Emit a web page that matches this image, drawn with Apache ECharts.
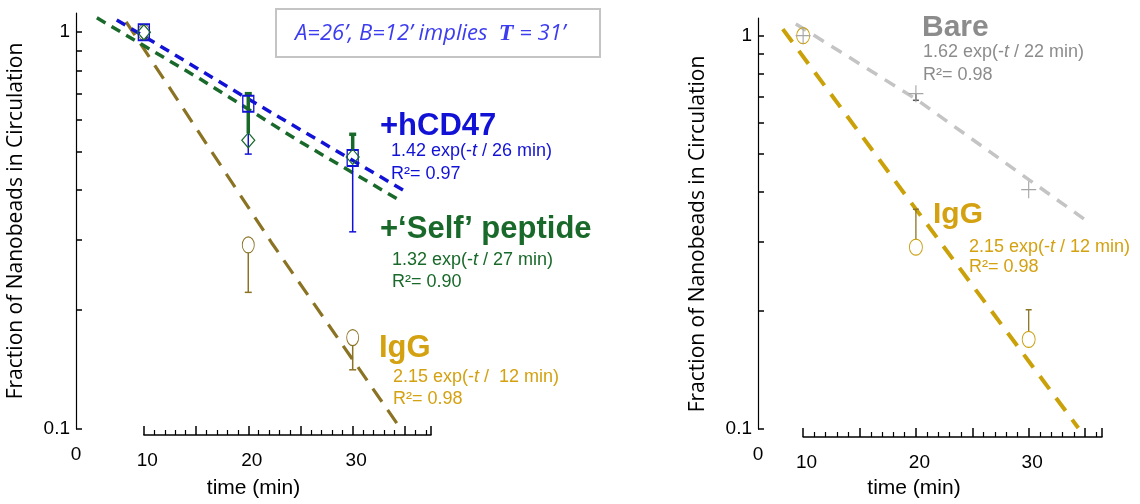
<!DOCTYPE html>
<html>
<head>
<meta charset="utf-8">
<title>Nanobeads in circulation</title>
<script src="https://cdn.jsdelivr.net/npm/echarts@6.0.0/dist/echarts.min.js"></script>
<style>
  html, body { margin: 0; padding: 0; background: #fff; }
  #chart { width: 1140px; height: 504px; }
</style>
</head>
<body>
<div id="chart"></div>
<script>
// values: [time (min), fraction in circulation]
const hcd47Points = [[10, 1.0], [20, 0.66], [30, 0.482]];
const hcd47Err = [[20, 0.66, 0.493], [30, 0.482, 0.314]]; // [t, mean, end of bar]
const hcd47Fit = [[7.4, 1.074], [19.5, 0.691], [34.9, 0.399]];

const selfPoints = [[10, 1.0], [20, 0.534], [30, 0.485]];
const selfErr = [[20, 0.534, 0.70], [30, 0.485, 0.553]];
const selfFit = [[5.5, 1.087], [15.4, 0.762], [24.9, 0.531], [34.5, 0.377]];

const iggLeftPoints = [[10, 1.0], [20, 0.291], [30, 0.170]];
const iggLeftErr = [[20, 0.291, 0.221], [30, 0.170, 0.141]];
const iggLeftFit = [[8.3, 1.062], [22.3, 0.293], [34.5, 0.101]];

const barePoints = [[10, 1.0], [20, 0.712], [30, 0.406]];
const bareErr = [[20, 0.712, 0.685]];
const bareFit = [[9.35, 1.071], [20, 0.69], [34.9, 0.342]];

const iggRightPoints = [[10, 1.0], [20, 0.290], [30, 0.169]];
const iggRightErr = [[20, 0.290, 0.362], [30, 0.169, 0.201]];
const iggRightFit = [[8.2, 1.039], [22.3, 0.295], [34.4, 0.1006]];

const yTickValues = [0.1, 0.2, 0.3, 0.4, 0.5, 0.6, 0.7, 0.8, 0.9, 1];
const yLabelValues = [0.1, 1];
const xLabelValues = [10, 20, 30];

const SANS = 'Liberation Sans';
const BLUE = '#1212d6';
const GREEN = '#19692a';
const GOLD = '#d4a111';
const OLIVE = '#8b7324';
const GRAY = '#8c8c8c';

const chart = echarts.init(document.getElementById('chart'));

// two panels, each: main grid + a thin strip grid that carries the x axis from t=10
const panels = [
  { axisX: 76, top: 13, height: 422, width: 355, xMin: 3.5, xMax: 37.5, yMax: 1.118, namePad: [0, 0, 0, 0], yNamePad: [0, 0, 0, 0] },
  { axisX: 758, top: 18, height: 419, width: 344, xMin: 6, xMax: 36.5, yMax: 1.109, namePad: [0, 32, 0, 0], yNamePad: [0, 21, 0, 0] }
];

const grid = [];
const xAxis = [];
const yAxis = [];
const tickFont = { fontFamily: SANS, fontSize: 19, color: '#000' };

panels.forEach(function (p) {
  const stripLeft = p.axisX + (10 - p.xMin) / (p.xMax - p.xMin) * p.width;
  const gi = grid.length;
  grid.push({ left: p.axisX, top: p.top, width: p.width, height: p.height });
  grid.push({ left: stripLeft, top: p.top + p.height - 10, width: p.axisX + p.width - stripLeft, height: 10 });

  xAxis.push({
    gridIndex: gi, type: 'value', min: p.xMin, max: p.xMax,
    axisLine: { show: false }, axisTick: { show: false }, splitLine: { show: false },
    axisLabel: Object.assign({ customValues: [p.xMin], formatter: function () { return '0'; }, margin: 16 }, tickFont),
    name: 'time (min)', nameLocation: 'middle', nameGap: 49,
    nameTextStyle: { fontFamily: SANS, fontSize: 21, color: '#000', padding: p.namePad }
  });
  xAxis.push({
    gridIndex: gi + 1, type: 'value', min: 10, max: p.xMax, interval: 5,
    axisLine: { onZero: false, lineStyle: { color: '#000', width: 1.5 } },
    axisTick: { inside: true, length: 9, lineStyle: { color: '#000', width: 1.5 } },
    minorTick: { show: true, splitNumber: 5, length: 5, lineStyle: { color: '#000', width: 1.2 } },
    splitLine: { show: false },
    axisLabel: Object.assign({ customValues: xLabelValues, margin: 16, padding: [0, 0, 0, 7] }, tickFont)
  });
  yAxis.push({
    gridIndex: gi, type: 'log', logBase: 10, min: 0.1, max: p.yMax,
    axisLine: { show: true, onZero: false, lineStyle: { color: '#000', width: 1.2 } },
    axisTick: { show: true, inside: true, length: 6, customValues: yTickValues, lineStyle: { color: '#000', width: 1.5 } },
    splitLine: { show: false },
    axisLabel: Object.assign({ customValues: yLabelValues, margin: 6, formatter: function (v) { return v < 0.5 ? '0.1' : '1'; } }, tickFont),
    name: 'Fraction of Nanobeads in Circulation', nameLocation: 'middle', nameGap: 49,
    nameTextStyle: { fontFamily: 'Open Sans', fontSize: 21, color: '#000', padding: p.yNamePad }
  });
  yAxis.push({ gridIndex: gi + 1, type: 'value', min: 0, max: 1, show: false });
});

function fitLine(data, ai, color, width, dash) {
  return {
    type: 'line', xAxisIndex: ai, yAxisIndex: ai, data: data, symbol: 'none', silent: true, z: 2,
    lineStyle: { color: color, width: width, type: dash }
  };
}

function errorBars(data, ai, color, width, cap, gap) {
  return {
    type: 'custom', xAxisIndex: ai, yAxisIndex: ai, data: data, silent: true, z: 3,
    renderItem: function (params, api) {
      const t = api.value(0);
      const p0 = api.coord([t, api.value(1)]);
      const p1 = api.coord([t, api.value(2)]);
      const dir = p1[1] > p0[1] ? 1 : -1;
      return {
        type: 'group',
        children: [
          { type: 'line', shape: { x1: p0[0], y1: p0[1] + dir * gap, x2: p1[0], y2: p1[1] }, style: { stroke: color, lineWidth: width } },
          { type: 'line', shape: { x1: p1[0] - cap / 2, y1: p1[1], x2: p1[0] + cap / 2, y2: p1[1] }, style: { stroke: color, lineWidth: Math.max(width, 1.5) } }
        ]
      };
    }
  };
}

function markers(data, ai, symbol, size, color, width) {
  return {
    type: 'scatter', xAxisIndex: ai, yAxisIndex: ai, data: data, symbol: symbol, symbolSize: size, silent: true, z: 4,
    itemStyle: { color: 'rgba(0,0,0,0)', borderColor: color, borderWidth: width, opacity: 1 }
  };
}

const series = [
  fitLine(iggLeftFit, 0, OLIVE, 3.2, [16, 10]),
  fitLine(selfFit, 0, GREEN, 3.5, [10, 7]),
  fitLine(hcd47Fit, 0, BLUE, 3.5, [10, 7]),
  errorBars(iggLeftErr, 0, OLIVE, 1.5, 7, 8),
  errorBars(hcd47Err, 0, BLUE, 1.5, 7, 8),
  errorBars(selfErr, 0, GREEN, 3.5, 7, 7),
  markers(iggLeftPoints, 0, 'circle', [12, 16], OLIVE, 1),
  markers(hcd47Points, 0, 'rect', [11, 16], BLUE, 1.6),
  markers(selfPoints, 0, 'diamond', [13, 15], GREEN, 1.2),

  fitLine(bareFit, 2, '#c4c4c4', 3.5, [12, 9]),
  fitLine(iggRightFit, 2, '#caa108', 4, [16, 11]),
  errorBars(bareErr, 2, '#555555', 1.5, 6, 0),
  errorBars(iggRightErr, 2, OLIVE, 1.3, 6, 8),
  markers(iggRightPoints, 2, 'circle', [13, 16], '#c9a00e', 1),
  markers(barePoints, 2, 'path://M0,6H12M6,0V12', [15, 17], '#a6a6a6', 1.2)
];

function plain(x, y, text, color, size, weight) {
  return {
    type: 'text', x: x, y: y, silent: true, z: 10,
    style: { text: text, fill: color, fontFamily: SANS, fontSize: size, fontWeight: weight || 'normal', verticalAlign: 'middle' }
  };
}

function fitText(x, y, pre, post, color) {
  const base = { fontFamily: SANS, fontSize: 18, fill: color };
  return {
    type: 'text', x: x, y: y, silent: true, z: 10,
    style: {
      text: '{a|' + pre + '}{i|t}{a|' + post + '}',
      rich: { a: base, i: Object.assign({ fontStyle: 'italic' }, base) },
      verticalAlign: 'middle'
    }
  };
}

const boxFont = { fontFamily: 'Open Sans', fontStyle: 'italic', fontSize: 22, fill: '#3c3cf0' };

const graphic = [
  { type: 'rect', shape: { x: 276, y: 9, width: 324, height: 48 }, style: { fill: '#fff', stroke: '#c4c4c4', lineWidth: 2 }, z: 9 },
  {
    type: 'text', x: 295, y: 34, z: 10,
    style: {
      text: '{a|A=26’, B=12’ implies  }{b|T}{a| = 31’}',
      rich: { a: boxFont, b: { fontFamily: 'Liberation Serif', fontStyle: 'italic', fontWeight: 'bold', fontSize: 24, fill: '#3c3cf0' } },
      verticalAlign: 'middle'
    }
  },
  plain(380, 126, '+hCD47', BLUE, 31, 'bold'),
  fitText(391, 151, '1.42 exp(-', ' / 26 min)', BLUE),
  plain(391, 173.7, 'R²= 0.97', BLUE, 18),
  plain(380, 229, '+‘Self’ peptide', GREEN, 31, 'bold'),
  fitText(392, 260.4, '1.32 exp(-', ' / 27 min)', GREEN),
  plain(392, 282, 'R²= 0.90', GREEN, 18),
  plain(379, 348.5, 'IgG', GOLD, 31, 'bold'),
  fitText(393, 377, '2.15 exp(-', ' /  12 min)', GOLD),
  plain(393, 398.7, 'R²= 0.98', GOLD, 18),

  plain(922, 27.8, 'Bare', GRAY, 30, 'bold'),
  fitText(923, 52, '1.62 exp(-', ' / 22 min)', GRAY),
  plain(923, 75.4, 'R²= 0.98', GRAY, 18),
  plain(933, 214.5, 'IgG', GOLD, 30, 'bold'),
  fitText(969, 247, '2.15 exp(-', ' / 12 min)', GOLD),
  plain(969, 267, 'R²= 0.98', GOLD, 18)
];

chart.setOption({
  animation: false,
  backgroundColor: '#fff',
  grid: grid,
  xAxis: xAxis,
  yAxis: yAxis,
  series: series,
  graphic: graphic
});

window.addEventListener('resize', function () {
  chart.resize();
});
</script>
</body>
</html>
